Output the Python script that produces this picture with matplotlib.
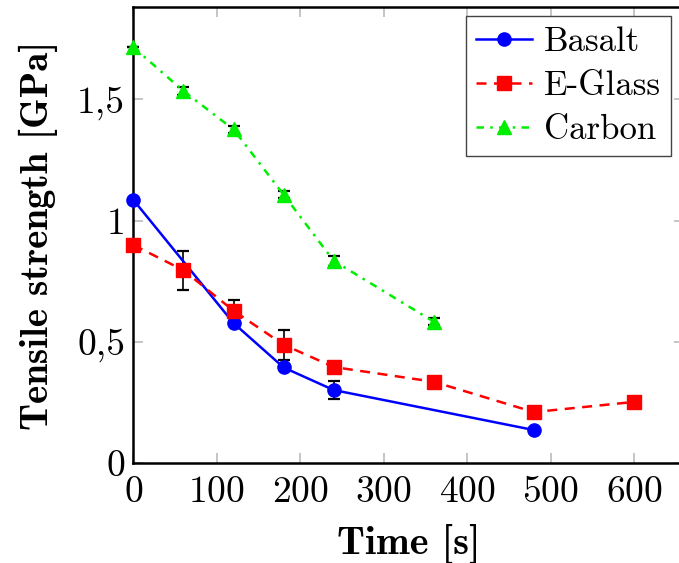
import matplotlib
matplotlib.use("Agg")
import matplotlib.pyplot as plt
from matplotlib.ticker import FixedLocator, FixedFormatter

plt.rcParams['font.family'] = ['cmr10', 'DejaVu Serif']
plt.rcParams['axes.formatter.use_mathtext'] = True

# data
basalt_t = [0, 120, 180, 240, 480]
basalt_s = [1.085, 0.577, 0.394, 0.301, 0.136]
basalt_err = [0.0, 0.0, 0.0, 0.037, 0.0]

glass_t = [0, 60, 120, 180, 240, 360, 480, 600]
glass_s = [0.899, 0.795, 0.628, 0.488, 0.396, 0.335, 0.21, 0.252]
glass_err = [0.0, 0.08, 0.044, 0.062, 0.0, 0.0, 0.0, 0.0]

carbon_t = [0, 60, 120, 180, 240, 360]
carbon_s = [1.715, 1.534, 1.376, 1.107, 0.834, 0.583]
carbon_err = [0.0, 0.015, 0.015, 0.015, 0.02, 0.015]

y_ticks = [0, 0.5, 1, 1.5]
y_tick_labels = ['0', '0,5', '1', '1,5']
x_ticks = [0, 100, 200, 300, 400, 500, 600]

fig = plt.figure(figsize=(6.79, 5.63), dpi=100)
ax = fig.add_axes([0.1965, 0.1776, 0.811, 0.81])

series = [
    (basalt_t, basalt_s, basalt_err, 'blue', '-', 'o', 'Basalt'),
    (glass_t, glass_s, glass_err, 'red', (0, (4, 3)), 's', 'E-Glass'),
    (carbon_t, carbon_s, carbon_err, '#00ee00', (0, (3, 2.5, 1, 2.5)), '^', 'Carbon'),
]

for t, s, err, col, ls, mk, name in series:
    ax.errorbar(t, s, yerr=err, fmt='none', ecolor='black', elinewidth=1.2,
                capsize=4.5, capthick=1.6, zorder=2, clip_on=False)
    ax.plot(t, s, color=col, linestyle=ls, linewidth=1.8, marker=mk,
            markersize=9.5, label=name, zorder=3, clip_on=False)

ax.set_xlim(0, 660)
ax.set_ylim(0, 1.881)

ax.xaxis.set_major_locator(FixedLocator(x_ticks))
ax.yaxis.set_major_locator(FixedLocator(y_ticks))
ax.yaxis.set_major_formatter(FixedFormatter(y_tick_labels))
ax.tick_params(direction='in', length=7, width=1.2, color='#bbbbbb',
               top=True, right=True, labelsize=27, pad=6)
ax.tick_params(axis='x', pad=9)

for sp in ax.spines.values():
    sp.set_linewidth(1.8)

ax.set_xlabel('Time [s]', fontfamily='cmb10', fontsize=29, labelpad=11)
ax.set_ylabel('Tensile strength [GPa]', fontfamily='cmb10', fontsize=28, labelpad=14)

leg = ax.legend(loc='upper right', bbox_to_anchor=(0.977, 0.98), fontsize=25,
                fancybox=False, framealpha=1, edgecolor='#444444',
                handlelength=1.6, handletextpad=0.35, labelspacing=0.35,
                borderpad=0.3, borderaxespad=0)
leg.get_frame().set_linewidth(1.0)

fig.savefig('out.png', dpi=100)
